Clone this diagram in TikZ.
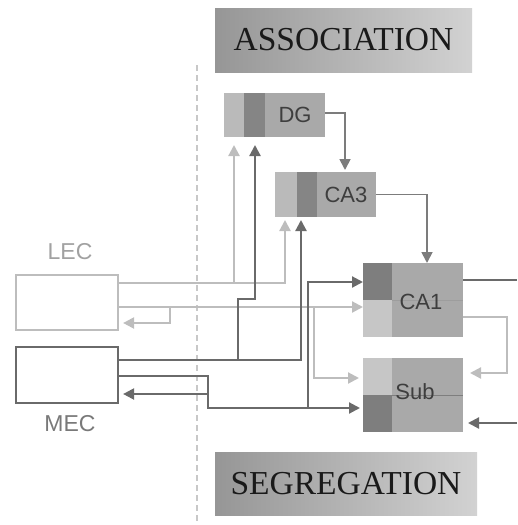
\documentclass[tikz,border=0pt]{standalone}
\usepackage{fontspec}
\setmainfont{Liberation Serif}
\newfontfamily\arialf{Liberation Sans}
\usetikzlibrary{arrows.meta,calc}
\definecolor{lgl}{HTML}{BDBDBD}
\definecolor{dgl}{HTML}{6A6A6A}
\definecolor{medl}{HTML}{7C7C7C}
\definecolor{midc}{HTML}{A9A9A9}
\definecolor{stripl}{HTML}{BABABA}
\definecolor{stripd}{HTML}{858585}
\definecolor{darksq}{HTML}{7E7E7E}
\definecolor{lightsq}{HTML}{C6C6C6}
\definecolor{txtc}{HTML}{3E3E3E}
\definecolor{gradL}{HTML}{969696}
\definecolor{gradR}{HTML}{D2D2D2}
\definecolor{headtxt}{HTML}{1A1A1A}
\definecolor{divc}{HTML}{C8C8C8}
\begin{document}
\begin{tikzpicture}[x=1pt,y=-1pt,
  lightline/.style={draw=lgl,line width=2.2pt},
  darkline/.style={draw=dgl,line width=2.2pt},
  medline/.style={draw=medl,line width=1.8pt},
  tip/.style={-{Triangle[length=11pt,width=11pt]}},
  region/.style={draw=none,fill=midc,inner sep=0pt,outer sep=0pt},
  boxtext/.style={font=\arialf\fontsize{22}{24}\selectfont,text=txtc,inner sep=0pt},
  ectext/.style={font=\arialf\fontsize{23}{25}\selectfont,inner sep=0pt},
  ecbox/.style={fill=white,line width=2.2pt,inner sep=0pt,minimum width=102pt},
  headbox/.style={left color=gradL,right color=gradR,inner sep=0pt,
    font=\fontsize{33.5}{35}\selectfont,text=headtxt}
]
\useasboundingbox (0,0) rectangle (517,525);

% headings
\node[headbox,minimum width=257pt,minimum height=64pt] (assoc) at (343.5,40) {ASSOCIATION};
\node[headbox,minimum width=262pt,minimum height=63pt] (segr) at (346,483.5) {SEGREGATION};

% divider
\draw[divc,line width=1.2pt,dash pattern=on 6pt off 4pt] (197,65) -- (197,525);

% DG
\node[region,minimum width=101pt,minimum height=44pt] (dg) at (274.5,115) {};
\fill[stripl] (dg.north west) rectangle ($(dg.south west)+(20,0)$);
\fill[stripd] ($(dg.north west)+(20,0)$) rectangle ($(dg.south west)+(41,0)$);
\node[boxtext] (dgt) at (295,115) {DG};

% CA3
\node[region,minimum width=101pt,minimum height=45pt] (ca3) at (325.5,194.5) {};
\fill[stripl] (ca3.north west) rectangle ($(ca3.south west)+(22,0)$);
\fill[stripd] ($(ca3.north west)+(22,0)$) rectangle ($(ca3.south west)+(42,0)$);
\node[boxtext] (ca3t) at (346,195) {CA3};

% CA1
\node[region,minimum width=100pt,minimum height=74pt] (ca1) at (413,300) {};
\fill[darksq] (ca1.north west) rectangle ($(ca1.west)+(29,0)$);
\fill[lightsq] ($(ca1.west)$) rectangle ($(ca1.south west)+(29,0)$);
\draw[stripd!80,line width=0.6pt] ($(ca1.west)+(29,0)$) -- (ca1.east);
\node[boxtext] (ca1t) at (421,302) {CA1};

% Sub
\node[region,minimum width=100pt,minimum height=74pt] (sub) at (413,395) {};
\fill[lightsq] (sub.north west) rectangle ($(sub.west)+(29,0)$);
\fill[darksq] ($(sub.west)$) rectangle ($(sub.south west)+(29,0)$);
\draw[darksq,line width=0.8pt] ($(sub.west)+(29,0)$) -- (sub.east);
\node[boxtext] (subt) at (415,392) {Sub};

% LEC / MEC
\node[ecbox,draw=lgl,minimum height=55pt] (lec) at (67,302.5) {};
\node[ecbox,draw=dgl,minimum height=56pt] (mec) at (67,375) {};
\node[ectext,text=lgl!85!black] (lect) at (70,252) {LEC};
\node[ectext,text=dgl!90!white] (mect) at (70,424) {MEC};

% coordinates
\coordinate (out1) at (517,280);
\coordinate (in2) at (517,423);

% LEC paths
\draw[lightline,tip,shorten >=3pt] (lec.east |- 0,283) -- (285,283) -- (ca3.south -| 285,0);
\draw[lightline,tip,shorten >=8pt] (234,283) -- (dg.south -| 234,0);
\draw[lightline,tip] (lec.east |- 0,307) -- (ca1.west |- 0,307);
\draw[lightline,tip,shorten >=4pt] (314,307) -- (314,378) -- (sub.west |- 0,378);
\draw[lightline,tip,shorten >=4pt] (170,307) -- (170,323) -- (lec.east |- 0,323);

% MEC paths
\draw[darkline,tip,shorten >=3pt] (mec.east |- 0,360) -- (301,360) -- (ca3.south -| 301,0);
\draw[darkline,tip,shorten >=8pt] (238,360) -- (238,299) -- (255,299) -- (dg.south -| 255,0);
\draw[darkline,tip,shorten >=3pt] (mec.east |- 0,376) -- (208,376) -- (208,408) -- (sub.west |- 0,408);
\draw[darkline,tip] (308,408) -- (308,282) -- (ca1.west |- 0,282);
\draw[darkline,tip,shorten >=4pt] (208,394) -- (mec.east |- 0,394);

% trisynaptic
\draw[medline,tip,shorten >=2pt] (dg.east |- 0,113) -- (345,113) -- (ca3.north -| 345,0);
\draw[medline,tip] (ca3.east) -- (427,194.5) -- (ca1.north -| 427,0);

% CA1 / Sub outputs
\draw[darkline] (ca1.east |- out1) -- (out1);
\draw[lightline,tip,shorten >=7pt] (ca1.east |- 0,317) -- (507,317) -- (507,373) -- (sub.east |- 0,373);
\draw[darkline,tip,shorten >=5pt] (in2) -- (sub.east |- in2);
\end{tikzpicture}
\end{document}
